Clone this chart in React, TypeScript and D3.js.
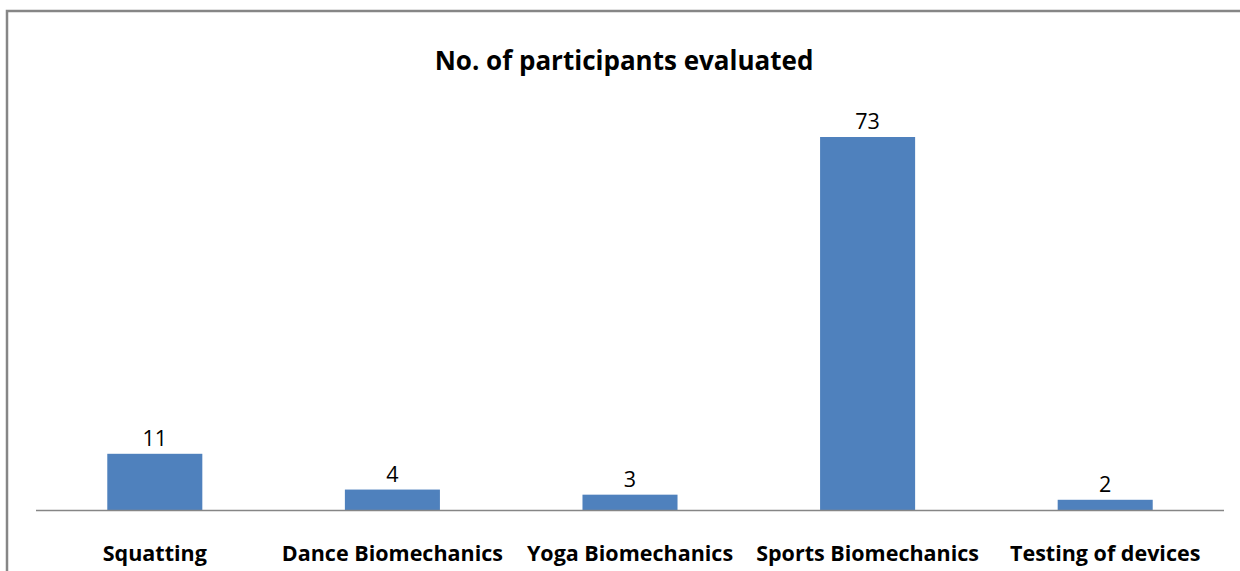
import React from "react";
import * as d3 from "d3";

const categories = ["Squatting", "Dance Biomechanics", "Yoga Biomechanics", "Sports Biomechanics", "Testing of devices"];
const values = [11, 4, 3, 73, 2];
const title = "No. of participants evaluated";

const W = 1240;
const H = 571;
const left = 36;
const right = 1224;
const baseY = 510;
const FONT = "'Open Sans', sans-serif";

export default function App() {
  const x = d3.scaleBand<string>().domain(categories).range([left, right]).paddingInner(0.6).paddingOuter(0.3);
  const y = d3.scaleLinear().domain([0, 80]).range([baseY, baseY - 80 * (373 / 73)]);
  return (
    <svg width={W} height={H} style={{ position: "absolute", left: 0, top: 0, background: "#fff" }}>
      <rect x={0} y={0} width={W} height={H} fill="#fff" />
      <path d={`M7,${H} V11 H${W}`} fill="none" stroke="#868686" strokeWidth={2.5} />
      <text x={624} y={70} textAnchor="middle" fontFamily={FONT} fontWeight="bold" fontSize={26} fill="#000">
        {title}
      </text>
      {categories.map((c, i) => (
        <g key={c}>
          <rect x={x(c)!} y={y(values[i])} width={x.bandwidth()} height={baseY - y(values[i])} fill="#4F81BD" />
          <text x={x(c)! + x.bandwidth() / 2} y={y(values[i]) - 8} textAnchor="middle" fontFamily={FONT} fontSize={21.5} fill="#000">
            {values[i]}
          </text>
          <text x={x(c)! + x.bandwidth() / 2} y={561} textAnchor="middle" fontFamily={FONT} fontWeight="bold" fontSize={21.5} fill="#000">
            {c}
          </text>
        </g>
      ))}
      <line x1={left} x2={right} y1={baseY + 0.5} y2={baseY + 0.5} stroke="#868686" strokeWidth={1.5} />
    </svg>
  );
}
